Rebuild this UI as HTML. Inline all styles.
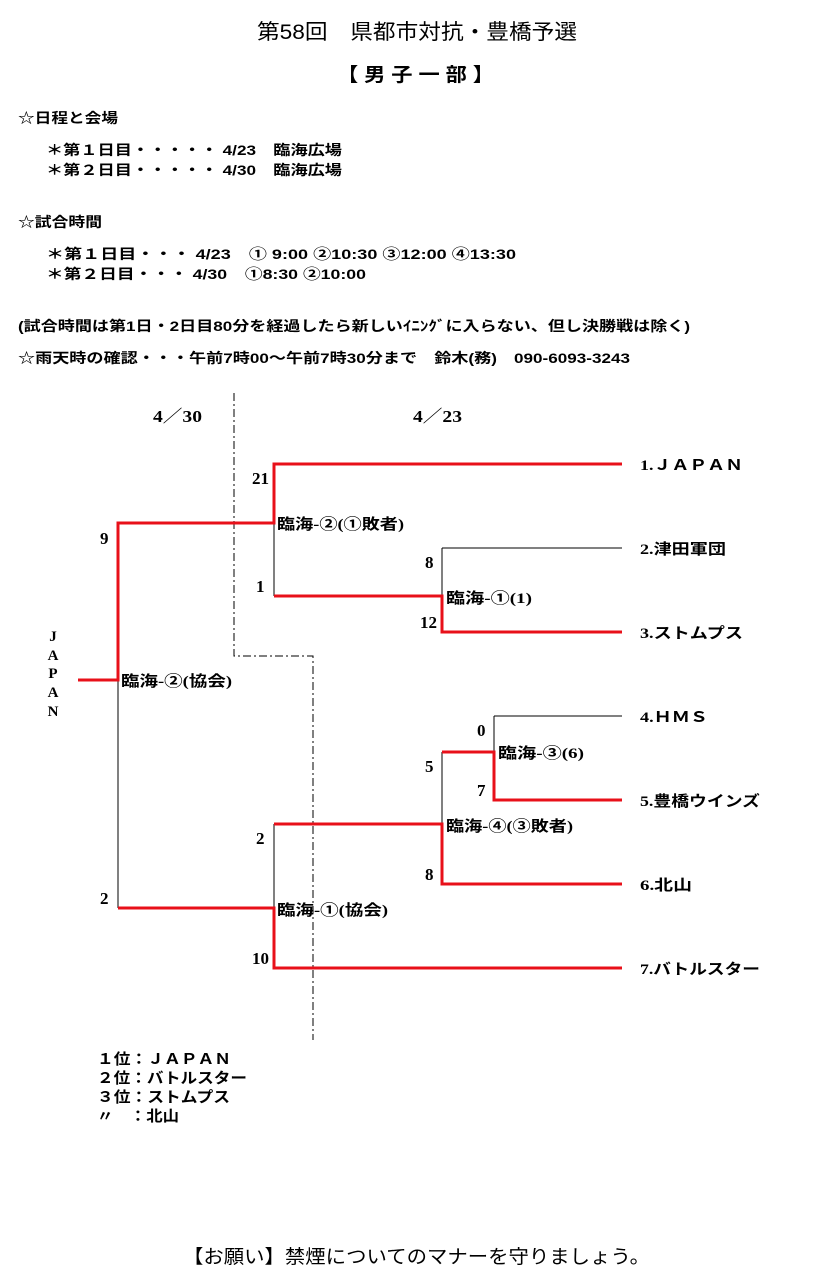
<!DOCTYPE html>
<html><head><meta charset="utf-8"><style>
html,body{margin:0;padding:0;background:#fff;}
svg{display:block;}
text{font-family:"Liberation Serif","Noto Sans CJK JP",serif;fill:#000;}
.s{font-family:"Liberation Sans","Noto Sans CJK JP",sans-serif;font-size:14px;font-weight:bold;}
.b{font-family:"Liberation Sans","Noto Sans CJK JP",sans-serif;font-size:15px;font-weight:bold;}
.n{font-family:"Liberation Serif","Noto Serif CJK SC",serif;font-size:17px;font-weight:bold;}
</style></head><body>
<svg width="833" height="1281" viewBox="0 0 833 1281" xmlns="http://www.w3.org/2000/svg">
<text class="b" x="257" y="39" style="font-size:21px;font-weight:normal" textLength="320" lengthAdjust="spacingAndGlyphs">第58回　県都市対抗・豊橋予選</text>
<text class="b" x="337" y="81" style="font-size:19px" textLength="157" lengthAdjust="spacingAndGlyphs">【 男 子 一 部 】</text>

<text class="s" x="18" y="123" textLength="100" lengthAdjust="spacingAndGlyphs">☆日程と会場</text>
<text class="s" x="46" y="155" textLength="296" lengthAdjust="spacingAndGlyphs">＊第１日目・・・・・ 4/23　臨海広場</text>
<text class="s" x="46" y="175" textLength="296" lengthAdjust="spacingAndGlyphs">＊第２日目・・・・・ 4/30　臨海広場</text>
<text class="s" x="18" y="227" textLength="84" lengthAdjust="spacingAndGlyphs">☆試合時間</text>
<text class="s" x="46" y="259" textLength="470" lengthAdjust="spacingAndGlyphs">＊第１日目・・・ 4/23　① 9:00 ②10:30 ③12:00 ④13:30</text>
<text class="s" x="46" y="279" textLength="320" lengthAdjust="spacingAndGlyphs">＊第２日目・・・ 4/30　①8:30 ②10:00</text>
<text class="s" x="18" y="331" textLength="672" lengthAdjust="spacingAndGlyphs">(試合時間は第1日・2日目80分を経過したら新しいｲﾆﾝｸﾞに入らない、但し決勝戦は除く)</text>
<text class="s" x="18" y="363" textLength="612" lengthAdjust="spacingAndGlyphs">☆雨天時の確認・・・午前7時00～午前7時30分まで　鈴木(務)　090-6093-3243</text>

<text class="n" x="153" y="422" textLength="49" lengthAdjust="spacingAndGlyphs">4／30</text>
<text class="n" x="413" y="422" textLength="49" lengthAdjust="spacingAndGlyphs">4／23</text>

<path d="M234 393 V656 H313 V1040" fill="none" stroke="#000" stroke-width="1" stroke-dasharray="8,3,2,3"/>

<g stroke="#000" stroke-width="1" fill="none">
<path d="M118 680 V908"/>
<path d="M274 523 V596"/>
<path d="M442 548 H622 M442 548 V596"/>
<path d="M494 716 H622 M494 716 V752"/>
<path d="M442 752 V824"/>
<path d="M274 824 V908"/>
</g>
<g stroke="#e8101a" stroke-width="3" fill="none" stroke-linejoin="miter">
<path d="M78 680 H118 V523 H274 V464 H622"/>
<path d="M274 596 H442 V632 H622"/>
<path d="M442 752 H494 V800 H622"/>
<path d="M274 824 H442 V884 H622"/>
<path d="M118 908 H274 V968 H622"/>
</g>

<g class="n">
<text x="252" y="484">21</text>
<text x="100" y="544">9</text>
<text x="256" y="592">1</text>
<text x="425" y="568">8</text>
<text x="420" y="628">12</text>
<text x="477" y="736">0</text>
<text x="425" y="772">5</text>
<text x="477" y="796">7</text>
<text x="256" y="844">2</text>
<text x="425" y="880">8</text>
<text x="100" y="904">2</text>
<text x="252" y="964">10</text>
</g>

<g class="b">
<text x="277" y="529" textLength="127" lengthAdjust="spacingAndGlyphs">臨海-②(①敗者)</text>
<text x="446" y="603" textLength="86" lengthAdjust="spacingAndGlyphs">臨海-①(1)</text>
<text x="121" y="686" textLength="111" lengthAdjust="spacingAndGlyphs">臨海-②(協会)</text>
<text x="498" y="758" textLength="86" lengthAdjust="spacingAndGlyphs">臨海-③(6)</text>
<text x="446" y="831" textLength="127" lengthAdjust="spacingAndGlyphs">臨海-④(③敗者)</text>
<text x="277" y="915" textLength="111" lengthAdjust="spacingAndGlyphs">臨海-①(協会)</text>
</g>

<g class="b">
<text x="640" y="470" textLength="103" lengthAdjust="spacingAndGlyphs">1.ＪＡＰＡＮ</text>
<text x="640" y="554" textLength="86" lengthAdjust="spacingAndGlyphs">2.津田軍団</text>
<text x="640" y="638" textLength="103" lengthAdjust="spacingAndGlyphs">3.ストムプス</text>
<text x="640" y="722" textLength="68" lengthAdjust="spacingAndGlyphs">4.ＨＭＳ</text>
<text x="640" y="806" textLength="120" lengthAdjust="spacingAndGlyphs">5.豊橋ウインズ</text>
<text x="640" y="890" textLength="52" lengthAdjust="spacingAndGlyphs">6.北山</text>
<text x="640" y="974" textLength="120" lengthAdjust="spacingAndGlyphs">7.バトルスター</text>
</g>

<g class="n" text-anchor="middle" style="font-size:15px">
<text x="53" y="641">J</text>
<text x="53" y="660">A</text>
<text x="53" y="678">P</text>
<text x="53" y="697">A</text>
<text x="53" y="716">N</text>
</g>

<g class="b">
<text x="97" y="1064" textLength="134" lengthAdjust="spacingAndGlyphs">１位：ＪＡＰＡＮ</text>
<text x="97" y="1083" textLength="150" lengthAdjust="spacingAndGlyphs">２位：バトルスター</text>
<text x="97" y="1102" textLength="133" lengthAdjust="spacingAndGlyphs">３位：ストムプス</text>
<text x="97" y="1121" textLength="82" lengthAdjust="spacingAndGlyphs">〃　：北山</text>
</g>

<text class="b" x="183" y="1263" style="font-size:19px;font-weight:normal" textLength="467" lengthAdjust="spacingAndGlyphs">【お願い】禁煙についてのマナーを守りましょう。</text>
</svg>
</body></html>
